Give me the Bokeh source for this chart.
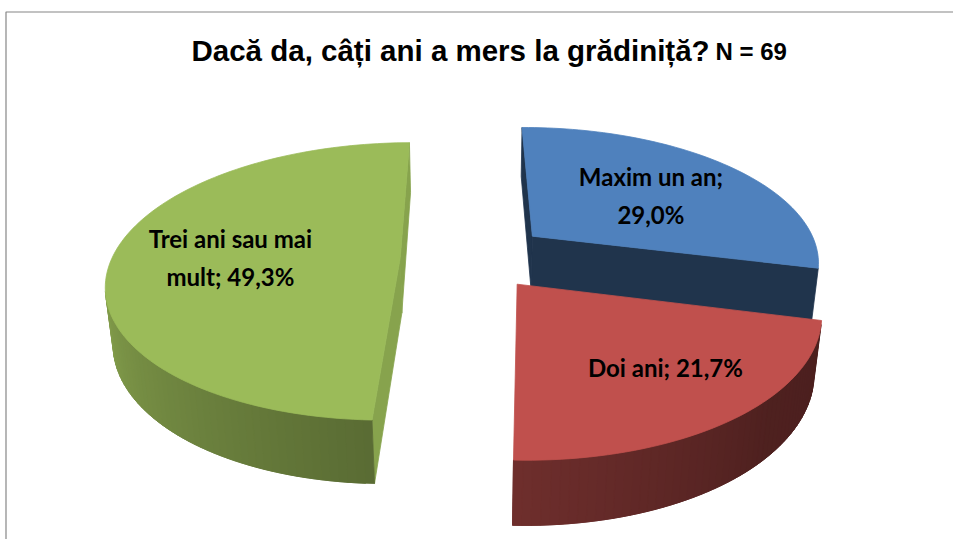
import numpy as np
from bokeh.plotting import figure
from bokeh.models import Range1d, ColumnDataSource
from bokeh.embed import file_html
from bokeh.resources import INLINE
from bokeh.core.properties import value

# ---------------- data ----------------
categories = ["Maxim un an", "Doi ani", "Trei ani sau mai mult"]
percents = [29.0, 21.7, 49.3]
label_texts = ["Maxim un an;\n29,0%", "Doi ani; 21,7%", "Trei ani sau mai\nmult; 49,3%"]
top_colors = ["#4F81BD", "#C0504D", "#9BBB59"]
title_main = "Dacă da, câți ani a mers la grădiniță?"
title_n = "N = 69"

# ---------------- 3D pie view / style ----------------
W, H_PX = 953, 539
CX, CY = 473.8, 257.1      # screen position of the camera axis
FOC = 1453.0
DIST = 5.044
ALPHA = 0.4863             # elevation (rad)
THICK = 0.2245
explode = [0.264, 0.239, 0.257]
START_DEG = -90.45         # screen angle, clockwise, y down
cut_shade = [0.40, 0.50, 0.87]
label_r = [0.57, 0.68, 0.59]
label_dt = [2.0, -3.0, -1.0]

ca, sa = np.cos(ALPHA), np.sin(ALPHA)
cam = np.array([0.0, -DIST * ca, DIST * sa])


def project(X, Y, Z):
    X = np.asarray(X, float); Y = np.asarray(Y, float); Z = np.asarray(Z, float)
    depth = DIST + Y * ca - Z * sa
    return CX + FOC * X / depth, CY - FOC * (Y * sa + Z * ca) / depth


def wdir(theta_deg):
    t = np.radians(theta_deg)
    return np.cos(t), -np.sin(t)


def side_shade(theta_deg):
    t = np.mod(theta_deg, 360.0)
    return np.interp(t, [0, 45, 90, 180, 270, 360], [0.38, 0.41, 0.57, 0.89, 0.6, 0.38])


def shade(hexc, f):
    h = hexc.lstrip("#")
    r, g, b = (int(h[i:i + 2], 16) for i in (0, 2, 4))
    return "#%02x%02x%02x" % tuple(int(max(0, min(255, round(v * f)))) for v in (r, g, b))


total = sum(percents)
bounds = [START_DEG]
for v in percents:
    bounds.append(bounds[-1] + 360.0 * v / total)

slices = []
for i, v in enumerate(percents):
    t0, t1 = bounds[i], bounds[i + 1]
    tm = 0.5 * (t0 + t1)
    mx, my = wdir(tm)
    cxw, cyw = explode[i] * mx, explode[i] * my
    slices.append((DIST + cyw * ca, i, t0, t1, tm, cxw, cyw))
slices.sort(key=lambda s: -s[0])   # far to near

xs, ys, cols = [], [], []
label_x, label_y = [0.0] * 3, [0.0] * 3

for depth_c, i, t0, t1, tm, cxw, cyw in slices:
    base = top_colors[i]
    n = max(8, int(abs(t1 - t0) / 1.5))
    th = np.linspace(t0, t1, n + 1)
    ax = cxw + np.cos(np.radians(th))
    ay = cyw - np.sin(np.radians(th))
    mx, my = wdir(tm)
    # radial cut faces
    for tb in (t0, t1):
        rx, ry = wdir(tb)
        nrm = np.array([-ry, rx, 0.0])
        if nrm[0] * mx + nrm[1] * my > 0:
            nrm = -nrm
        px, py = cxw + rx, cyw + ry
        P = np.array([(cxw + px) / 2, (cyw + py) / 2, -THICK / 2])
        if np.dot(P - cam, nrm) < 0:
            sx, sy = project([cxw, px, px, cxw], [cyw, py, py, cyw], [0, 0, -THICK, -THICK])
            xs.append(list(sx)); ys.append(list(sy)); cols.append(shade(base, cut_shade[i]))
    # outer side, in thin strips for the shading gradient
    for k in range(n):
        tmid = 0.5 * (th[k] + th[k + 1])
        nx, ny = wdir(tmid)
        P = np.array([cxw + nx, cyw + ny, -THICK / 2])
        if np.dot(P - cam, np.array([nx, ny, 0.0])) < 0:
            k2 = min(k + 2, n)
            sx, sy = project([ax[k], ax[k2], ax[k2], ax[k]],
                             [ay[k], ay[k2], ay[k2], ay[k]],
                             [0, 0, -THICK, -THICK])
            xs.append(list(sx)); ys.append(list(sy)); cols.append(shade(base, side_shade(tmid)))
    # top face
    sx, sy = project(np.concatenate([[cxw], ax]), np.concatenate([[cyw], ay]), np.zeros(n + 2))
    xs.append(list(sx)); ys.append(list(sy)); cols.append(base)
    lx_, ly_ = wdir(tm + label_dt[i])
    lx, ly = project([cxw + label_r[i] * lx_], [cyw + label_r[i] * ly_], [0.0])
    label_x[i], label_y[i] = float(lx[0]), float(ly[0])

# ---------------- figure ----------------
p = figure(width=W, height=H_PX, output_backend="svg", toolbar_location=None,
           x_range=Range1d(0, W), y_range=Range1d(H_PX, 0),
           min_border=0, outline_line_color=None)
p.axis.visible = False
p.grid.visible = False
p.background_fill_color = "white"

# chart area border (left and top edges visible)
p.line(x=[5.5, 5.5, W], y=[H_PX, 11.5, 11.5], line_color="#868686", line_width=1.2)

src = ColumnDataSource(dict(xs=xs, ys=ys, c=cols))
p.patches("xs", "ys", source=src, fill_color="c", line_color="c", line_width=0.8)

lsrc = ColumnDataSource(dict(x=label_x, y=label_y, t=label_texts))
p.text("x", "y", text="t", source=lsrc, text_align="center", text_baseline="middle",
       text_font=value("Lato"), text_font_style="bold", text_font_size="24px",
       text_color="black", text_line_height=1.3)

p.text(x=[191], y=[50], text=[title_main], text_align="left", text_baseline="middle",
       text_font=value("Liberation Sans"), text_font_style="bold", text_font_size="29.5px",
       text_color="black")
p.text(x=[715], y=[51], text=[title_n], text_align="left", text_baseline="middle",
       text_font=value("Liberation Sans"), text_font_style="bold", text_font_size="24px",
       text_color="black")

open("out.html", "w").write(file_html(p, INLINE))
